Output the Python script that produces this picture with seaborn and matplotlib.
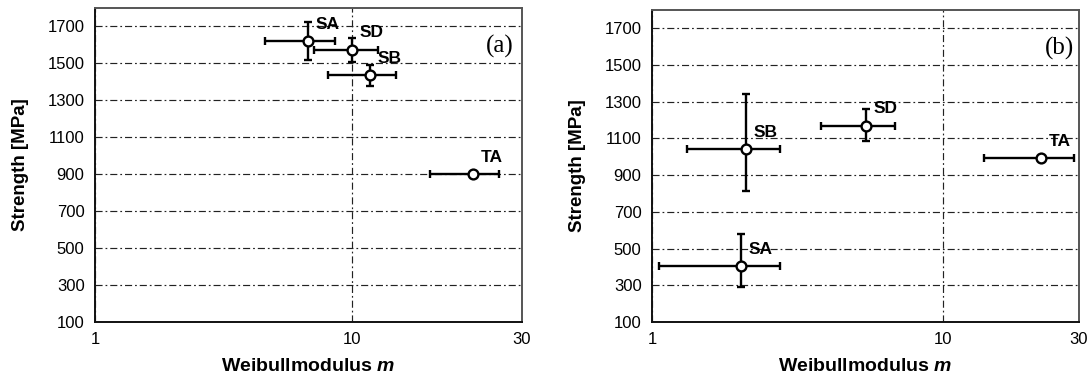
import numpy as np
import pandas as pd
import matplotlib
matplotlib.use("Agg")
import matplotlib.pyplot as plt
import seaborn as sns
from matplotlib.ticker import FixedLocator, NullLocator, FixedFormatter

# ---------------- data ----------------
samples_a = ["SA", "SD", "SB", "TA"]
m_a = [6.75, 10.0, 11.8, 29.6]
m_lo_a = [4.6, 7.1, 8.05, 20.1]
m_hi_a = [8.6, 12.7, 14.8, 37.3]
s_a = [1620, 1574, 1436, 899]
s_lo_a = [1516, 1505, 1380, 887]
s_hi_a = [1722, 1637, 1492, 911]

samples_b = ["SB", "SD", "TA", "SA"]
m_b = [2.10, 5.47, 21.9, 2.02]
m_lo_b = [1.316, 3.83, 13.95, 1.056]
m_hi_b = [2.75, 6.86, 28.4, 2.75]
s_b = [1040, 1169, 993, 404]
s_lo_b = [812, 1084, 985, 292]
s_hi_b = [1343, 1259, 1001, 580]

panel_labels = ["(a)", "(b)"]
xtick_labels = ["1", "10", "30"]
xtick_values_a = [1, 10, 46]
xtick_values_b = [1, 10, 29.5]
ytick_values = [100, 300, 500, 700, 900, 1100, 1300, 1500, 1700]
yminor_values = [200, 400, 600, 800, 1000, 1200, 1400, 1600]
xlabel = "Weibullmodulus $m$"
ylabel = "Strength [MPa]"

# ---------------- style ----------------
sns.set_style("white")
plt.rcParams["font.family"] = ["Liberation Sans", "DejaVu Sans"]
plt.rcParams["mathtext.fontset"] = "custom"
plt.rcParams["mathtext.it"] = "Liberation Sans:bold:italic"
plt.rcParams["mathtext.rm"] = "Liberation Sans:bold"
for key in ["text.color", "axes.labelcolor", "xtick.color", "ytick.color"]:
    plt.rcParams[key] = "black"

fig = plt.figure(figsize=(10.88, 3.81), dpi=100)
ax_a = fig.add_axes([0.0873, 0.1549, 0.3925, 0.8241])
ax_b = fig.add_axes([0.5993, 0.1549, 0.3924, 0.8189])

panels = [
    (ax_a, samples_a, m_a, m_lo_a, m_hi_a, s_a, s_lo_a, s_hi_a, xtick_values_a, panel_labels[0], 0.981, 0.876),
    (ax_b, samples_b, m_b, m_lo_b, m_hi_b, s_b, s_lo_b, s_hi_b, xtick_values_b, panel_labels[1], 0.988, 0.878),
]

for (ax, names, m, mlo, mhi, s, slo, shi, xticks, plab, px, py) in panels:
    df = pd.DataFrame({"name": names, "m": m, "mlo": mlo, "mhi": mhi,
                       "s": s, "slo": slo, "shi": shi})
    ax.set_xscale("log")
    ax.set_xlim(xticks[0], xticks[-1])
    ax.set_ylim(100, 1800)

    ax.errorbar(df["m"], df["s"],
                xerr=[df["m"] - df["mlo"], df["mhi"] - df["m"]],
                yerr=[df["s"] - df["slo"], df["shi"] - df["s"]],
                fmt="none", ecolor="black", elinewidth=1.7, capsize=3.2,
                capthick=1.7, zorder=3)
    sns.scatterplot(data=df, x="m", y="s", ax=ax, marker="o", s=50,
                    facecolor="white", edgecolor="black", linewidth=1.7,
                    zorder=4, legend=False)
    for _, r in df.iterrows():
        ax.annotate(r["name"], (r["m"], r["s"]), xytext=(5.5, 12.2),
                    textcoords="offset points", ha="left", va="center",
                    fontsize=12.5, fontweight="bold", color="black", zorder=5)

    ax.xaxis.set_major_locator(FixedLocator(xticks))
    ax.xaxis.set_major_formatter(FixedFormatter(xtick_labels))
    ax.xaxis.set_minor_locator(NullLocator())
    ax.yaxis.set_major_locator(FixedLocator(ytick_values))
    ax.yaxis.set_minor_locator(FixedLocator(yminor_values))

    ax.grid(True, which="major", axis="both", color="#222222",
            linestyle=(0, (6, 2.5, 1.5, 2.5)), linewidth=0.85, zorder=1)
    ax.set_axisbelow(True)

    ax.tick_params(axis="both", which="major", direction="out", length=5,
                   width=1.2, labelsize=12, pad=2.5, colors="black")
    ax.tick_params(axis="y", which="minor", direction="out", length=3,
                   width=1.2, colors="black")
    for sp in ax.spines.values():
        sp.set_visible(True)
        sp.set_color("#111111")
        sp.set_linewidth(1.4)
    ax.spines["top"].set_color("#555555")
    ax.spines["right"].set_color("#555555")

    ax.set_xlabel(xlabel, fontsize=14, fontweight="bold")
    ax.set_ylabel(ylabel, fontsize=13.5, fontweight="bold")
    ax.xaxis.set_label_coords(0.5, -0.115)
    ax.yaxis.set_label_coords(-0.155, 0.5)

    ax.text(px, py, plab, transform=ax.transAxes, ha="right", va="center",
            fontsize=18, family="Liberation Serif", color="black")

fig.savefig("out.png", dpi=100)
